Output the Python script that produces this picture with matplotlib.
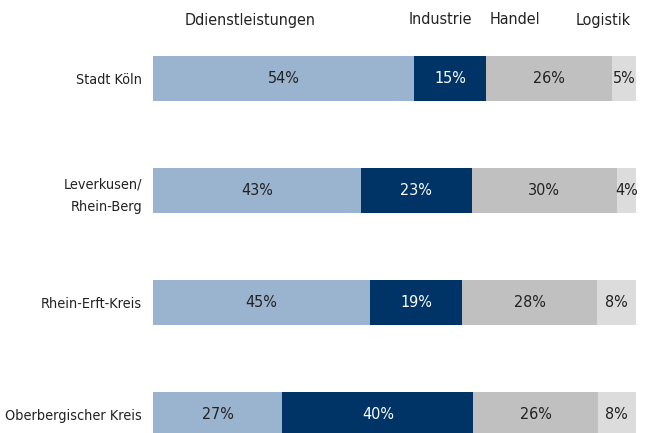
import matplotlib
matplotlib.use("Agg")
import matplotlib.pyplot as plt
import numpy as np

# Branchenanteile je Region (Prozent)
regions = ["Stadt Köln", "Leverkusen/\nRhein-Berg", "Rhein-Erft-Kreis", "Oberbergischer Kreis"]
sectors = ["Ddienstleistungen", "Industrie", "Handel", "Logistik"]
dienstleistungen = [54, 43, 45, 27]
industrie = [15, 23, 19, 40]
handel = [26, 30, 28, 26]
logistik = [5, 4, 8, 8]

colors = ["#9ab3cf", "#003366", "#c0c0c0", "#dcdcdc"]
text_colors = ["#222222", "white", "#222222", "#222222"]

plt.rcParams["font.family"] = "DejaVu Sans"
plt.rcParams["font.stretch"] = "condensed"
fs = 11.5

W, H = 657, 433
fig = plt.figure(figsize=(W / 100, H / 100), dpi=100)
ax = fig.add_axes([153 / W, 0, 483 / W, 1])

data = np.array([dienstleistungen, industrie, handel, logistik], dtype=float)
shares = data / data.sum(axis=0) * 100
y = np.arange(len(regions))
left = np.zeros(len(regions))
for i in range(len(sectors)):
    ax.barh(y, shares[i], left=left, height=0.4, color=colors[i], edgecolor="none")
    for j in range(len(regions)):
        ax.text(left[j] + shares[i][j] / 2, y[j], f"{int(data[i][j])}%",
                ha="center", va="center", fontsize=fs, color=text_colors[i])
    left += shares[i]

ax.set_xlim(0, 100)
ax.set_ylim((H - 78.5) / 112, -78.5 / 112)
ax.set_yticks(y)
ax.set_yticklabels(regions, fontsize=10.4, color="#222222", linespacing=1.7)
ax.tick_params(axis="y", length=0, pad=8)
ax.set_xticks([])
for s in ax.spines.values():
    s.set_visible(False)

# Spaltenüberschriften
header_x = [250, 440, 515, 603]
for name, hx in zip(sectors, header_x):
    fig.text(hx / W, 1 - 20 / H, name, ha="center", va="center", fontsize=11.5, color="#222222")

fig.savefig("out.png", dpi=100)
